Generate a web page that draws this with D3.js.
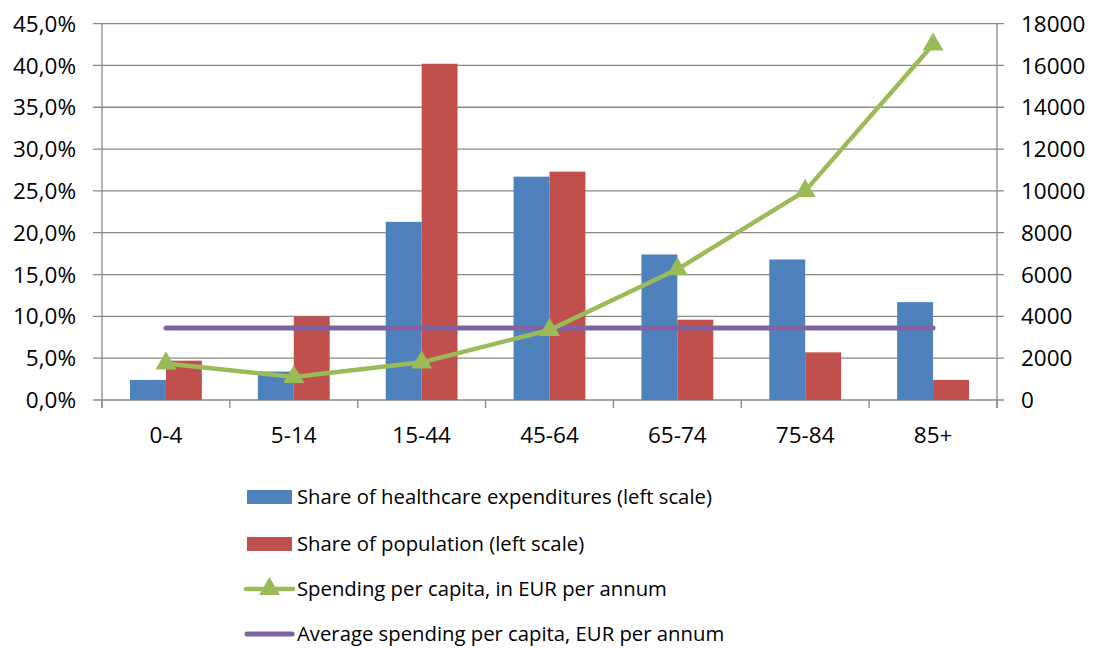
<!DOCTYPE html>
<html>
<head>
<meta charset="utf-8">
<script src="https://cdn.jsdelivr.net/npm/d3@7"></script>
<style>
  body { margin: 0; background: #fff; }
  svg { display: block; font-family: "Open Sans", sans-serif; }
</style>
</head>
<body>
<div id="chart"></div>
<script>
// Data
const ageGroups = ["0-4", "5-14", "15-44", "45-64", "65-74", "75-84", "85+"];
const shareExpenditures = [2.4, 3.4, 21.3, 26.7, 17.4, 16.8, 11.7];
const sharePopulation = [4.7, 10.0, 40.2, 27.3, 9.6, 5.7, 2.4];
const spendingPerCapita = [1750, 1100, 1800, 3350, 6250, 10000, 17000];
const averageSpending = 3440;
const leftTicks = [0, 5, 10, 15, 20, 25, 30, 35, 40, 45];
const rightTicks = [0, 2000, 4000, 6000, 8000, 10000, 12000, 14000, 16000, 18000];
const legendLabels = [
  "Share of healthcare expenditures (left scale)",
  "Share of population (left scale)",
  "Spending per capita, in EUR per annum",
  "Average spending per capita, EUR per annum"
];

const w = 1098, h = 648;
const plotLeft = 102, plotRight = 997, plotTop = 23.6, plotBottom = 400;
const colors = { exp: "#4F81BD", pop: "#C0504D", line: "#9BBB59", avg: "#8064A2", grid: "#888888" };
const axisFont = 22.5, legendFont = 20.3;

let svg = d3.select("#chart").append("svg").attr("width", w).attr("height", h);

let x = d3.scaleBand().domain(ageGroups).range([plotLeft, plotRight]).padding(0);
let sub = d3.scaleBand().domain(["exp", "pop"]).range([0, x.bandwidth()]).paddingInner(0).paddingOuter(0.78);
let yL = d3.scaleLinear().domain([0, 45]).range([plotBottom, plotTop]);
let yR = d3.scaleLinear().domain([0, 18000]).range([plotBottom, plotTop]);

// gridlines
svg.append("g").selectAll("line").data(leftTicks).enter().append("line")
  .attr("x1", plotLeft - 9).attr("x2", plotRight + 7)
  .attr("y1", d => yL(d)).attr("y2", d => yL(d))
  .attr("stroke", colors.grid).attr("stroke-width", 1.3);

// axis lines
svg.append("line").attr("x1", plotLeft).attr("x2", plotLeft).attr("y1", plotTop).attr("y2", plotBottom + 8)
  .attr("stroke", colors.grid).attr("stroke-width", 1.3);
svg.append("line").attr("x1", plotRight).attr("x2", plotRight).attr("y1", plotTop).attr("y2", plotBottom + 8)
  .attr("stroke", colors.grid).attr("stroke-width", 1.3);

// category tick marks
let bounds = ageGroups.map(d => x(d)).concat([plotRight]);
svg.append("g").selectAll("line").data(bounds).enter().append("line")
  .attr("x1", d => d).attr("x2", d => d).attr("y1", plotBottom).attr("y2", plotBottom + 8)
  .attr("stroke", colors.grid).attr("stroke-width", 1.3);

// left axis labels
const fmtPct = d => d3.format(".1f")(d).replace(".", ",") + "%";
svg.append("g").selectAll("text").data(leftTicks).enter().append("text")
  .attr("x", 76).attr("y", d => yL(d)).attr("dy", "0.36em")
  .attr("text-anchor", "end").attr("font-size", axisFont).attr("fill", "#000")
  .text(fmtPct);

// right axis labels
svg.append("g").selectAll("text").data(rightTicks).enter().append("text")
  .attr("x", 1021).attr("y", d => yR(d)).attr("dy", "0.36em")
  .attr("text-anchor", "start").attr("font-size", axisFont).attr("fill", "#000")
  .text(d => d);

// x labels
svg.append("g").selectAll("text").data(ageGroups).enter().append("text")
  .attr("x", d => x(d) + x.bandwidth() / 2).attr("y", 443)
  .attr("text-anchor", "middle").attr("font-size", axisFont).attr("fill", "#000")
  .text(d => d);

// bars
let barData = ageGroups.map((g, i) => ({ g: g, exp: shareExpenditures[i], pop: sharePopulation[i] }));
let groups = svg.append("g").selectAll("g").data(barData).enter().append("g")
  .attr("transform", d => "translate(" + x(d.g) + ",0)");
groups.selectAll("rect").data(d => [{ k: "exp", v: d.exp }, { k: "pop", v: d.pop }]).enter().append("rect")
  .attr("x", d => sub(d.k)).attr("width", sub.bandwidth())
  .attr("y", d => yL(d.v)).attr("height", d => plotBottom - yL(d.v))
  .attr("fill", d => colors[d.k]);

// average line
svg.append("line")
  .attr("x1", x(ageGroups[0]) + x.bandwidth() / 2)
  .attr("x2", x(ageGroups[ageGroups.length - 1]) + x.bandwidth() / 2)
  .attr("y1", yR(averageSpending)).attr("y2", yR(averageSpending))
  .attr("stroke", colors.avg).attr("stroke-width", 5).attr("stroke-linecap", "round");

// spending line
let line = d3.line().x((d, i) => x(ageGroups[i]) + x.bandwidth() / 2).y(d => yR(d));
svg.append("path").datum(spendingPerCapita).attr("d", line)
  .attr("fill", "none").attr("stroke", colors.line).attr("stroke-width", 4.5).attr("stroke-linejoin", "round");

let tri = d3.symbol().type(d3.symbolTriangle).size(190);
svg.append("g").selectAll("path").data(spendingPerCapita).enter().append("path")
  .attr("d", tri)
  .attr("transform", (d, i) => "translate(" + (x(ageGroups[i]) + x.bandwidth() / 2) + "," + yR(d) + ")")
  .attr("fill", colors.line);

// legend
let legend = svg.append("g");
let rows = [497, 544, 589, 634];
legend.append("rect").attr("x", 247).attr("y", rows[0] - 7).attr("width", 45).attr("height", 14).attr("fill", colors.exp);
legend.append("rect").attr("x", 247).attr("y", rows[1] - 7).attr("width", 45).attr("height", 14).attr("fill", colors.pop);
legend.append("line").attr("x1", 246).attr("x2", 293).attr("y1", rows[2]).attr("y2", rows[2])
  .attr("stroke", colors.line).attr("stroke-width", 4.5).attr("stroke-linecap", "round");
legend.append("path").attr("d", tri).attr("transform", "translate(269.5," + rows[2] + ")").attr("fill", colors.line);
legend.append("line").attr("x1", 247).attr("x2", 292).attr("y1", rows[3]).attr("y2", rows[3])
  .attr("stroke", colors.avg).attr("stroke-width", 5).attr("stroke-linecap", "round");
legend.selectAll("text").data(legendLabels).enter().append("text")
  .attr("x", 297).attr("y", (d, i) => rows[i]).attr("dy", "0.36em")
  .attr("font-size", legendFont).attr("fill", "#000")
  .text(d => d);
</script>
</body>
</html>
